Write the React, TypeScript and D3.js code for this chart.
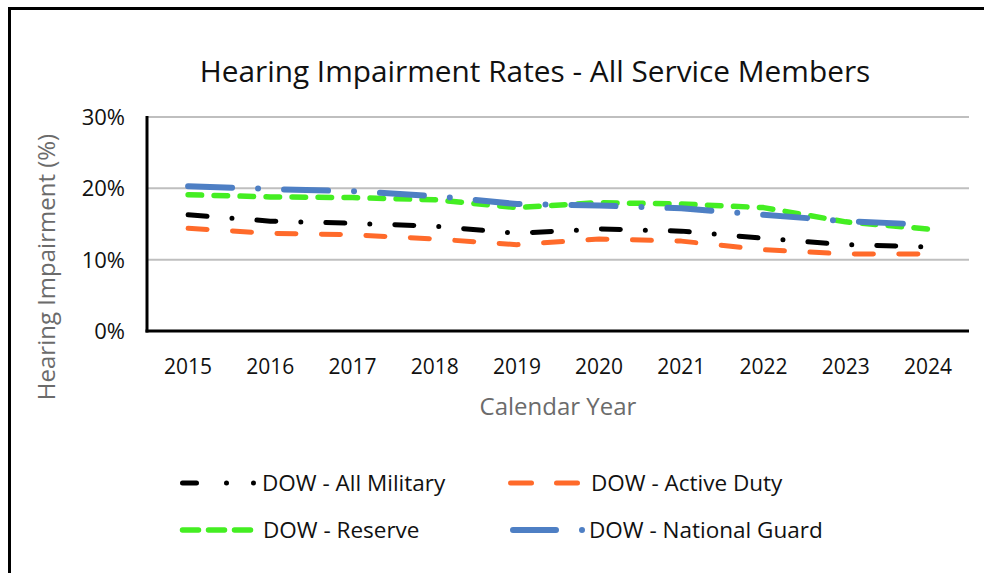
import React from "react";
import * as d3 from "d3";

const years = ["2015", "2016", "2017", "2018", "2019", "2020", "2021", "2022", "2023", "2024"];
const allMilitary = [16.3, 15.4, 15.1, 14.7, 13.7, 14.3, 14.0, 13.0, 12.1, 11.8];
const activeDuty = [14.4, 13.7, 13.5, 12.9, 12.1, 12.9, 12.6, 11.4, 10.8, 10.8];
const reserve = [19.1, 18.8, 18.7, 18.4, 17.3, 18.0, 17.8, 17.3, 15.3, 14.3];
const nationalGuard = [20.3, 19.9, 19.6, 18.9, 17.8, 17.6, 17.2, 16.3, 15.4, 14.9];
const yTicks = [0, 10, 20, 30];

const seriesNames = ["DOW - All Military", "DOW - Active Duty", "DOW - Reserve", "DOW - National Guard"];

const FONT = "'Open Sans', 'DejaVu Sans', sans-serif";

export default function App() {
  const W = 984, H = 573;
  const left = 147, right = 969, top = 117, bottom = 331;
  const x = d3.scaleBand<string>().domain(years).range([left, right]);
  const xc = (yr: string) => (x(yr) as number) + x.bandwidth() / 2;
  const y = d3.scaleLinear().domain([0, 30]).range([bottom, top]);

  const series = [
    { name: seriesNames[0], values: allMilitary, color: "#000000", width: 5, dash: "19 25 0 25", lDash: "14 30 0 27 0 200", lx: 182.5, lx2: 254.5, tx: 262, row: 0 },
    { name: seriesNames[1], values: activeDuty, color: "#FF6A2A", width: 5, dash: "19 25.5", lDash: "21 25 21 100", lx: 510.5, lx2: 577.5, tx: 591, row: 0 },
    { name: seriesNames[2], values: reserve, color: "#44EE22", width: 5.5, dash: "13.5 12.5", lDash: "16 10", lx: 182.5, lx2: 257.5, tx: 263, row: 1 },
    { name: seriesNames[3], values: nationalGuard, color: "#4E7FC4", width: 6, dash: "44 26 0 26", lDash: "43 26 0 100", lx: 513, lx2: 583, tx: 589, row: 1 },
  ];

  const line = d3
    .line<number>()
    .x((_, i) => xc(years[i]))
    .y((d) => y(d));

  const legendRows = [483, 530];

  return (
    <svg width={W} height={H} style={{ position: "absolute", left: 0, top: 0, background: "#fff" }}>
      <rect x={0} y={0} width={W} height={H} fill="#fff" />
      <rect x={9.5} y={8.5} width={1000} height={600} fill="none" stroke="#000" strokeWidth={3} />
      <text x={535} y={82} textAnchor="middle" fontFamily={FONT} fontSize={29.8} fill="#111">
        Hearing Impairment Rates - All Service Members
      </text>
      {yTicks.filter((t) => t > 0).map((t) => (
        <line key={t} x1={left} x2={right} y1={y(t)} y2={y(t)} stroke="#BFBFBF" strokeWidth={2} />
      ))}
      {yTicks.map((t) => (
        <text key={"l" + t} x={125} y={y(t) + 8} textAnchor="end" fontFamily={FONT} fontSize={22} fill="#111">
          {t}%
        </text>
      ))}
      <line x1={left} x2={left} y1={top - 1} y2={bottom + 1.5} stroke="#000" strokeWidth={3} />
      <line x1={left - 1.5} x2={right} y1={bottom} y2={bottom} stroke="#000" strokeWidth={3} />
      {years.map((yr) => (
        <text key={yr} x={xc(yr)} y={374} textAnchor="middle" fontFamily={FONT} fontSize={21} fill="#111">
          {yr}
        </text>
      ))}
      <text x={558} y={415} textAnchor="middle" fontFamily={FONT} fontSize={24} fill="#6b6b6b">
        Calendar Year
      </text>
      <text
        transform={`translate(55, 267) rotate(-90)`}
        textAnchor="middle"
        fontFamily={FONT}
        fontSize={24}
        fill="#6b6b6b"
      >
        Hearing Impairment (%)
      </text>
      {series.map((s) => (
        <path
          key={s.name}
          d={line(s.values) || ""}
          fill="none"
          stroke={s.color}
          strokeWidth={s.width}
          strokeDasharray={s.dash}
          strokeLinecap="round"
          strokeLinejoin="round"
        />
      ))}
      {series.map((s) => (
        <g key={"lg" + s.name}>
          <line
            x1={s.lx}
            x2={s.lx2}
            y1={legendRows[s.row]}
            y2={legendRows[s.row]}
            stroke={s.color}
            strokeWidth={s.width}
            strokeDasharray={s.lDash}
            strokeLinecap="round"
          />
          <text x={s.tx} y={legendRows[s.row] + 8} fontFamily={FONT} fontSize={22.5} fill="#111">
            {s.name}
          </text>
        </g>
      ))}
    </svg>
  );
}
